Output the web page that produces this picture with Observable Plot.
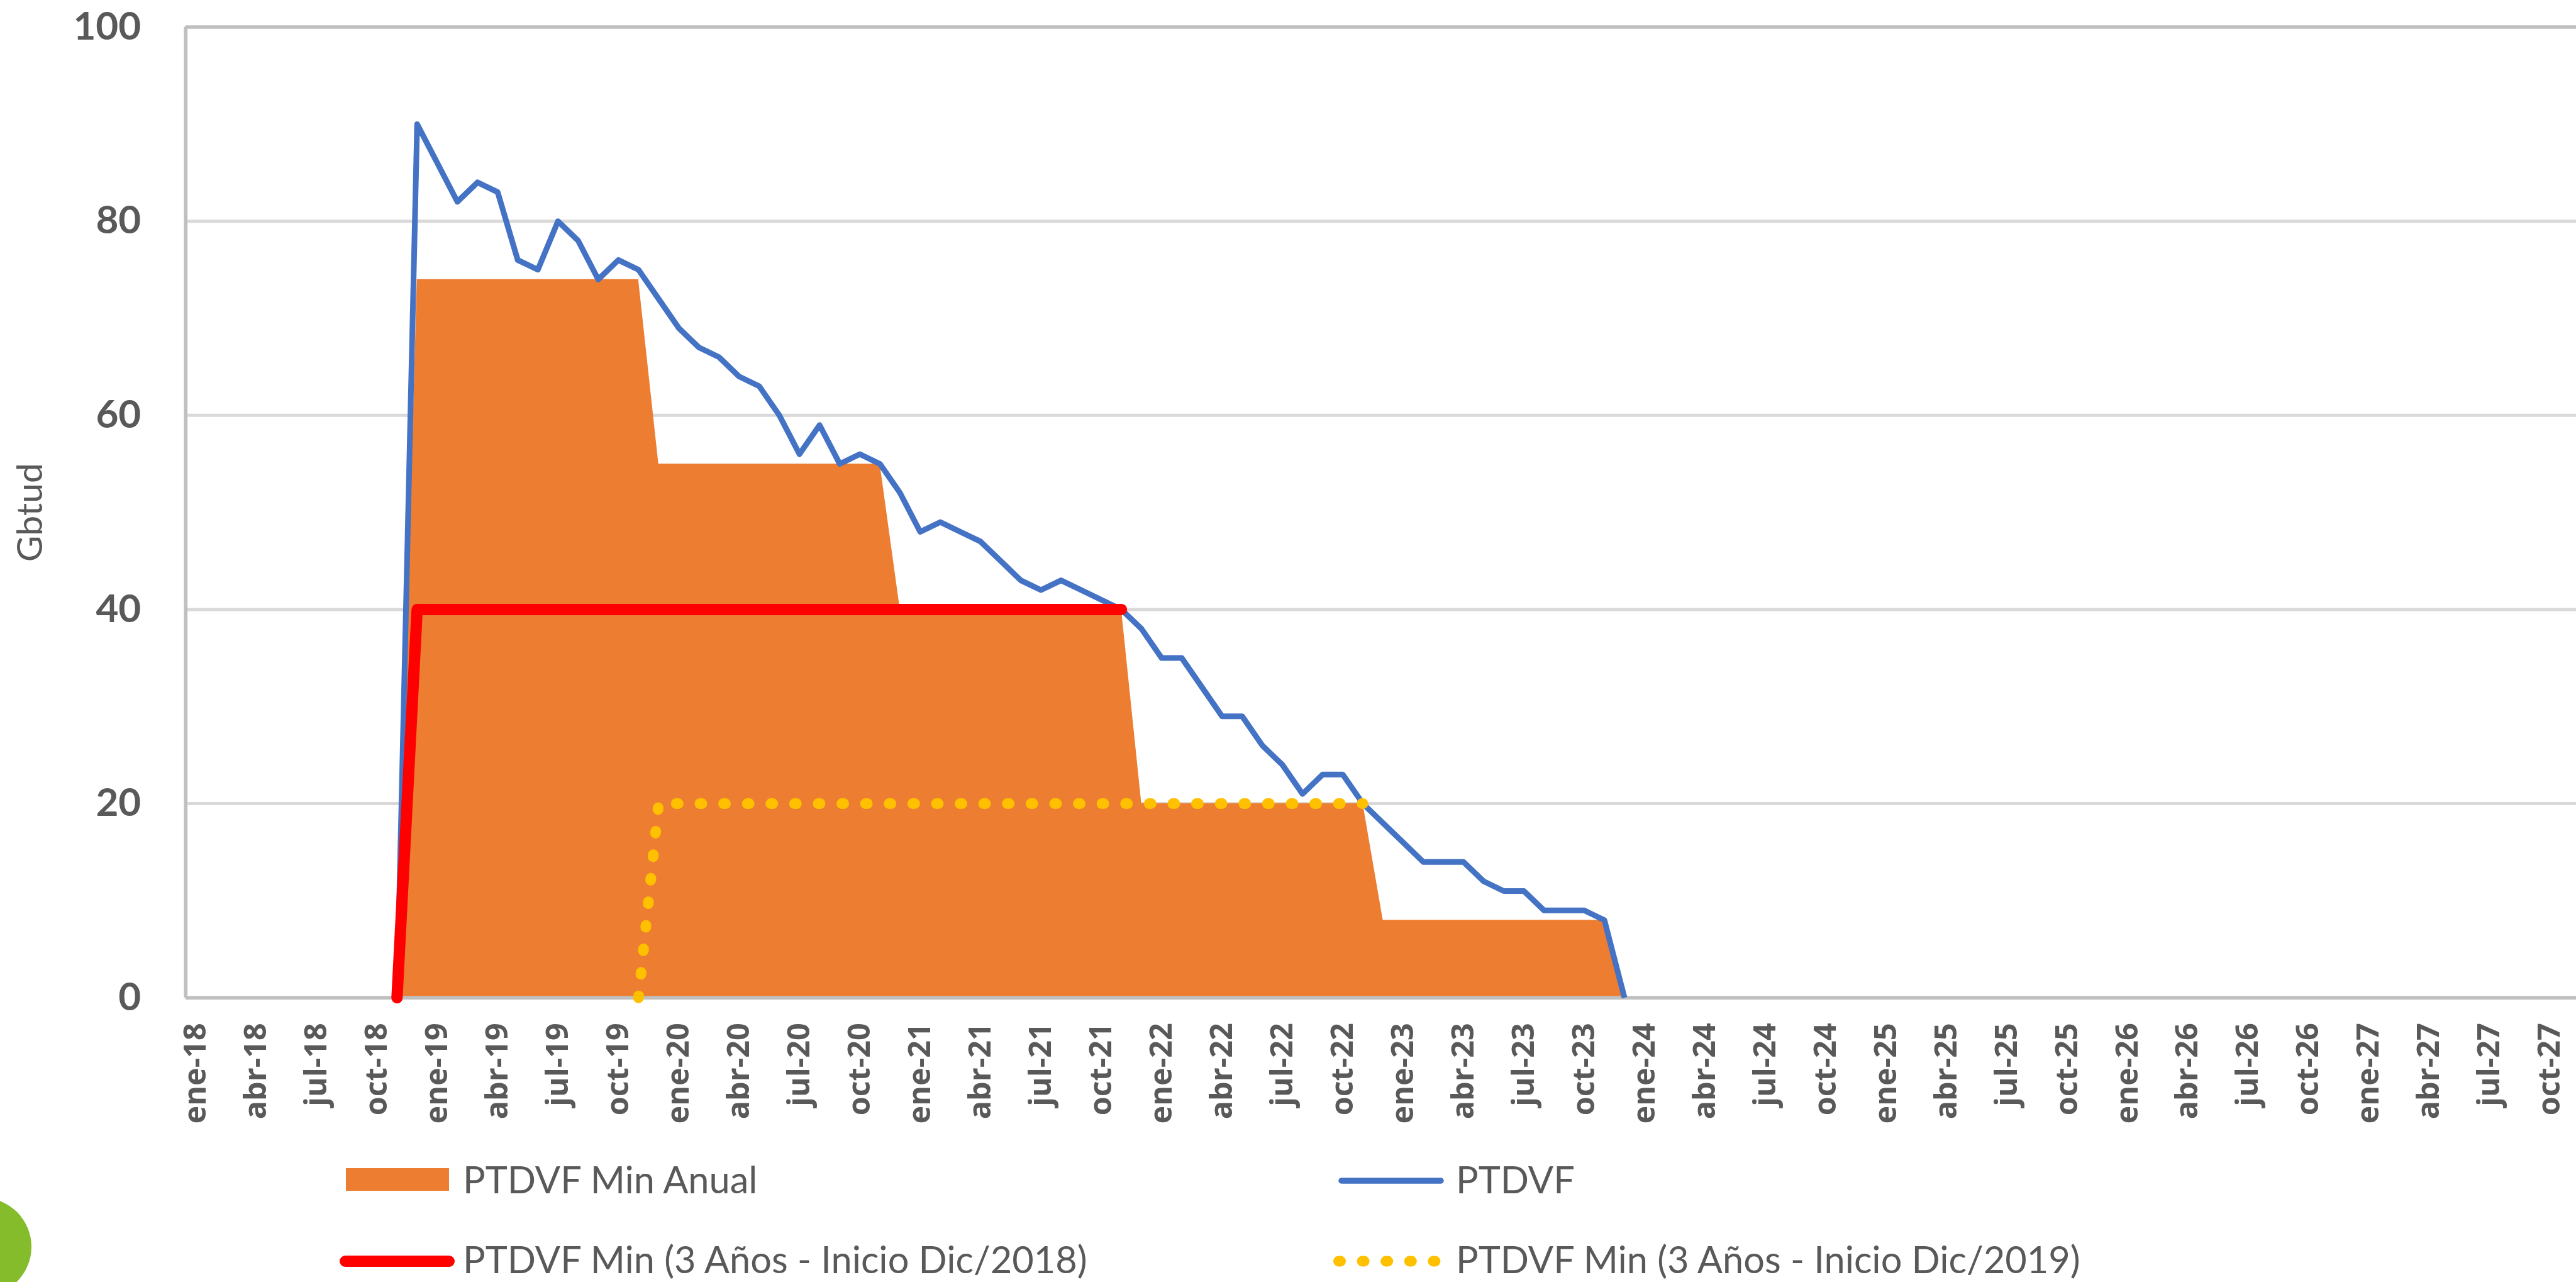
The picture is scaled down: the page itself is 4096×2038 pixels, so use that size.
<!DOCTYPE html>
<html>
<head>
<meta charset="utf-8">
<script src="https://cdn.jsdelivr.net/npm/d3@7"></script>
<script src="https://cdn.jsdelivr.net/npm/@observablehq/plot@0.6"></script>
<style>
  html, body { margin: 0; padding: 0; background: #ffffff; }
  #wrap { width: 4096px; height: 2038px; overflow: hidden; position: relative; background: #ffffff; }
  #chart svg, #legend { display: block; }
</style>
</head>
<body>
<div id="wrap">
  <div id="chart"></div>
  <svg id="legend" width="4096" height="238" xmlns="http://www.w3.org/2000/svg"></svg>
</div>
<script>
// ---------- data ----------
const monthNames = ["ene","feb","mar","abr","may","jun","jul","ago","sep","oct","nov","dic"];

const tickLabels = [
  "ene-18","abr-18","jul-18","oct-18","ene-19","abr-19","jul-19","oct-19",
  "ene-20","abr-20","jul-20","oct-20","ene-21","abr-21","jul-21","oct-21",
  "ene-22","abr-22","jul-22","oct-22","ene-23","abr-23","jul-23","oct-23",
  "ene-24","abr-24","jul-24","oct-24","ene-25","abr-25","jul-25","oct-25",
  "ene-26","abr-26","jul-26","oct-26","ene-27","abr-27","jul-27","oct-27"
];
const yTicks = [0, 20, 40, 60, 80, 100];
const gridValues = [20, 40, 60, 80];

// PTDVF monthly, starting nov-18
const ptdvfStart = "nov-18";
const ptdvf = [
  0, 90, 86, 82, 84, 83, 76, 75, 80, 78, 74, 76, 75, 72,
  69, 67, 66, 64, 63, 60, 56, 59, 55, 56, 55, 52,
  48, 49, 48, 47, 45, 43, 42, 43, 42, 41, 40, 38,
  35, 35, 32, 29, 29, 26, 24, 21, 23, 23, 20, 18,
  16, 14, 14, 14, 12, 11, 11, 9, 9, 9, 8, 0
];

// PTDVF Min Anual monthly, starting nov-18
const minAnualStart = "nov-18";
const minAnual = [
  0,
  74, 74, 74, 74, 74, 74, 74, 74, 74, 74, 74, 74,
  55, 55, 55, 55, 55, 55, 55, 55, 55, 55, 55, 55,
  40, 40, 40, 40, 40, 40, 40, 40, 40, 40, 40, 40,
  20, 20, 20, 20, 20, 20, 20, 20, 20, 20, 20, 20,
  8, 8, 8, 8, 8, 8, 8, 8, 8, 8, 8, 8,
  0
];

// PTDVF Min (3 Años - Inicio Dic/2018), starting nov-18
const min2018Start = "nov-18";
const min2018 = [
  0,
  40, 40, 40, 40, 40, 40, 40, 40, 40, 40, 40, 40,
  40, 40, 40, 40, 40, 40, 40, 40, 40, 40, 40, 40,
  40, 40, 40, 40, 40, 40, 40, 40, 40, 40, 40, 40
];

// PTDVF Min (3 Años - Inicio Dic/2019), starting nov-19
const min2019Start = "nov-19";
const min2019 = [
  0,
  20, 20, 20, 20, 20, 20, 20, 20, 20, 20, 20, 20,
  20, 20, 20, 20, 20, 20, 20, 20, 20, 20, 20, 20,
  20, 20, 20, 20, 20, 20, 20, 20, 20, 20, 20, 20
];

const legendLabels = [
  "PTDVF Min Anual",
  "PTDVF",
  "PTDVF Min (3 Años - Inicio Dic/2018)",
  "PTDVF Min (3 Años - Inicio Dic/2019)"
];

// ---------- helpers ----------
function monthIndex(label) {
  const [mon, yy] = label.split("-");
  return (+yy - 18) * 12 + monthNames.indexOf(mon);
}
function toRows(start, values) {
  const s = monthIndex(start);
  return values.map((v, i) => ({m: s + i, v}));
}
const tickMonths = tickLabels.map(monthIndex);
const labelByMonth = new Map(tickMonths.map((m, i) => [m, tickLabels[i]]));

const rowsPtdvf = toRows(ptdvfStart, ptdvf);
const rowsAnual = toRows(minAnualStart, minAnual);
const rows2018 = toRows(min2018Start, min2018);
const rows2019 = toRows(min2019Start, min2019);

// ---------- styles ----------
const colors = {
  orange: "#ED7D31", blue: "#4472C4", red: "#FF0000", yellow: "#FFC000",
  text: "#595959", grid: "#D9D9D9", axis: "#BFBFBF", green: "#85BC2B"
};
const xDomain = [-0.5, 118.3];
const dotted = "3,34.6";

const chart = Plot.plot({
  width: 4096,
  height: 1800,
  marginLeft: 294.8,
  marginRight: 0,
  marginTop: 42.5,
  marginBottom: 214.3,
  x: {type: "linear", domain: xDomain, axis: null},
  y: {domain: [0, 100], axis: null},
  style: {background: "#ffffff", overflow: "visible"},
  marks: [
    Plot.ruleY(gridValues, {stroke: colors.grid, strokeWidth: 5}),
    Plot.areaY(rowsAnual, {x: "m", y: "v", fill: colors.orange, curve: "linear"}),
    Plot.ruleY([yTicks[0], yTicks[yTicks.length - 1]], {stroke: colors.axis, strokeWidth: 5.7}),
    Plot.ruleX([xDomain[0]], {stroke: colors.axis, strokeWidth: 5.7}),
    Plot.line(rowsPtdvf, {x: "m", y: "v", stroke: colors.blue, strokeWidth: 9, strokeLinejoin: "round", strokeLinecap: "butt"}),
    Plot.line(rows2018, {x: "m", y: "v", stroke: colors.red, strokeWidth: 18, strokeLinejoin: "round", strokeLinecap: "round"}),
    Plot.line(rows2019, {x: "m", y: "v", stroke: colors.yellow, strokeWidth: 17, strokeDasharray: dotted, strokeLinecap: "round", strokeLinejoin: "round"}),
    Plot.axisX({
      ticks: tickMonths,
      tickFormat: d => labelByMonth.get(d),
      tickRotate: -90,
      tickSize: 0,
      tickPadding: 40,
      fontSize: 48.5,
      fontFamily: "Open Sans",
      fontWeight: "bold",
      fill: colors.text,
      label: null
    }),
    Plot.axisY({
      ticks: yTicks,
      tickSize: 0,
      tickPadding: 71,
      fontSize: 62,
      fontFamily: "Lato",
      fontWeight: "bold",
      fill: colors.text,
      label: null
    }),
    Plot.text(["Gbtud"], {
      text: d => d,
      frameAnchor: "left",
      dx: -247,
      rotate: -90,
      fontSize: 57,
      fontFamily: "Lato",
      fill: colors.text,
      textAnchor: "middle"
    })
  ]
});
document.getElementById("chart").appendChild(chart);

// ---------- legend (below the plot) ----------
const NS = "http://www.w3.org/2000/svg";
const leg = document.getElementById("legend");
function el(tag, attrs, text) {
  const e = document.createElementNS(NS, tag);
  for (const k in attrs) e.setAttribute(k, attrs[k]);
  if (text != null) e.textContent = text;
  leg.appendChild(e);
  return e;
}
const fontAttrs = {"font-family": "Lato", "font-size": 59.5, fill: colors.text};
// green decoration circle (partly outside the page)
el("circle", {cx: -28, cy: 182, r: 78, fill: colors.green});
// row 1
el("rect", {x: 550, y: 57, width: 164, height: 36, fill: colors.orange});
el("text", Object.assign({x: 736, y: 97}, fontAttrs), legendLabels[0]);
el("line", {x1: 2133, x2: 2291, y1: 77, y2: 77, stroke: colors.blue, "stroke-width": 9.5, "stroke-linecap": "round"});
el("text", Object.assign({x: 2315, y: 97}, fontAttrs), legendLabels[1]);
// row 2
el("line", {x1: 549, x2: 714, y1: 205, y2: 205, stroke: colors.red, "stroke-width": 18, "stroke-linecap": "round"});
el("text", Object.assign({x: 736, y: 224}, fontAttrs), legendLabels[2]);
el("line", {x1: 2128.5, x2: 2283.5, y1: 205, y2: 205, stroke: colors.yellow, "stroke-width": 17, "stroke-linecap": "round", "stroke-dasharray": dotted});
el("text", Object.assign({x: 2315, y: 224}, fontAttrs), legendLabels[3]);
</script>
</body>
</html>
